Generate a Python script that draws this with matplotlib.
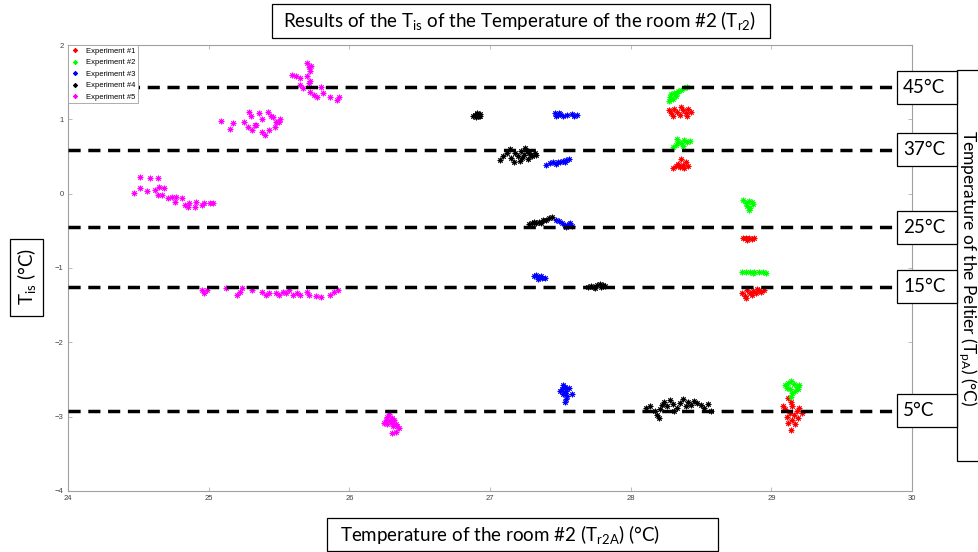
import matplotlib
matplotlib.use("Agg")
import matplotlib.pyplot as plt
import matplotlib.transforms as mtransforms
from matplotlib.patches import Rectangle

plt.rcParams['font.family'] = ['Lato', 'DejaVu Sans']
plt.rcParams['mathtext.fontset'] = 'custom'
plt.rcParams['mathtext.rm'] = 'Lato'
plt.rcParams['mathtext.it'] = 'Lato:italic'

# ---- data ----
exp1_x = [28.27, 28.29, 28.31, 28.33, 28.35, 28.37, 28.39, 28.41, 28.43, 28.30, 28.36, 28.40,
          28.30, 28.32, 28.34, 28.36, 28.37, 28.39, 28.41, 28.38, 28.35,
          28.80, 28.82, 28.84, 28.86, 28.88, 28.83,
          28.79, 28.81, 28.83, 28.85, 28.87, 28.89, 28.91, 28.93, 28.95, 28.82, 28.86, 28.90,
          29.12, 29.14, 29.15, 29.10, 29.18, 29.13, 29.16, 29.20, 29.08, 29.15, 29.12, 29.17,
          29.14, 29.19, 29.22, 29.11]
exp1_y = [1.12, 1.08, 1.14, 1.10, 1.06, 1.12, 1.09, 1.14, 1.10, 1.05, 1.16, 1.05,
          0.34, 0.37, 0.40, 0.46, 0.38, 0.42, 0.37, 0.34, 0.36,
          -0.60, -0.59, -0.60, -0.61, -0.60, -0.62,
          -1.33, -1.37, -1.30, -1.34, -1.31, -1.33, -1.29, -1.32, -1.30, -1.40, -1.36, -1.28,
          -2.75, -2.80, -2.86, -2.90, -2.92, -2.95, -2.98, -2.88, -2.85, -3.05, -3.08, -3.10,
          -3.18, -3.02, -2.95, -3.00]

exp2_x = [28.27, 28.28, 28.29, 28.30, 28.31, 28.32, 28.34, 28.36, 28.38, 28.40, 28.29, 28.33,
          28.30, 28.32, 28.34, 28.36, 28.38, 28.40, 28.42, 28.37, 28.33,
          28.80, 28.82, 28.84, 28.86, 28.83, 28.85, 28.84, 28.87,
          28.79, 28.82, 28.85, 28.88, 28.91, 28.94, 28.96, 28.87,
          29.10, 29.12, 29.14, 29.16, 29.18, 29.20, 29.13, 29.15, 29.14, 29.17, 29.11, 29.19]
exp2_y = [1.25, 1.30, 1.34, 1.28, 1.36, 1.32, 1.38, 1.40, 1.42, 1.43, 1.27, 1.35,
          0.63, 0.66, 0.70, 0.68, 0.72, 0.69, 0.71, 0.64, 0.73,
          -0.09, -0.12, -0.10, -0.11, -0.16, -0.19, -0.22, -0.14,
          -1.06, -1.05, -1.06, -1.05, -1.06, -1.05, -1.07, -1.07,
          -2.58, -2.55, -2.52, -2.56, -2.60, -2.58, -2.63, -2.68, -2.74, -2.65, -2.62, -2.63]

exp3_x = [27.46, 27.48, 27.47, 27.50, 27.52, 27.55, 27.58, 27.60, 27.62, 27.49,
          27.40, 27.43, 27.45, 27.48, 27.50, 27.52, 27.54, 27.56, 27.47, 27.53,
          27.47, 27.49, 27.51, 27.53, 27.56, 27.58, 27.54, 27.57,
          27.31, 27.33, 27.35, 27.37, 27.39, 27.34, 27.36,
          27.52, 27.53, 27.51, 27.54, 27.53, 27.52, 27.55, 27.58, 27.54, 27.53, 27.50, 27.56]
exp3_y = [1.08, 1.06, 1.04, 1.07, 1.05, 1.06, 1.07, 1.05, 1.06, 1.09,
          0.39, 0.41, 0.42, 0.43, 0.43, 0.44, 0.45, 0.46, 0.40, 0.42,
          -0.35, -0.37, -0.40, -0.42, -0.41, -0.43, -0.45, -0.39,
          -1.11, -1.10, -1.12, -1.13, -1.14, -1.15, -1.11,
          -2.57, -2.60, -2.63, -2.65, -2.68, -2.70, -2.72, -2.70, -2.76, -2.80, -2.66, -2.62]

exp4_x = [26.89, 26.91, 26.93, 26.90, 26.92, 26.91, 26.88, 26.93,
          27.07, 27.09, 27.12, 27.15, 27.17, 27.18, 27.20, 27.22, 27.24, 27.25, 27.27, 27.28,
          27.30, 27.32, 27.33, 27.21, 27.26, 27.14, 27.23, 27.29,
          27.28, 27.30, 27.33, 27.35, 27.38, 27.40, 27.42, 27.44, 27.36, 27.31,
          27.70, 27.72, 27.74, 27.76, 27.78, 27.80, 27.82, 27.75, 27.79,
          28.11, 28.14, 28.17, 28.19, 28.21, 28.22, 28.24, 28.26, 28.28, 28.30, 28.33, 28.35,
          28.37, 28.39, 28.41, 28.43, 28.45, 28.47, 28.50, 28.52, 28.55, 28.57, 28.20, 28.31]
exp4_y = [1.06, 1.08, 1.05, 1.03, 1.04, 1.07, 1.05, 1.07,
          0.45, 0.50, 0.55, 0.48, 0.42, 0.55, 0.50, 0.58, 0.52, 0.62, 0.47, 0.55,
          0.50, 0.55, 0.52, 0.44, 0.57, 0.60, 0.48, 0.52,
          -0.41, -0.40, -0.39, -0.38, -0.36, -0.35, -0.33, -0.31, -0.40, -0.38,
          -1.25, -1.24, -1.25, -1.23, -1.22, -1.23, -1.24, -1.27, -1.26,
          -2.88, -2.86, -2.93, -2.98, -2.90, -2.84, -2.80, -2.85, -2.78, -2.83, -2.88, -2.82,
          -2.76, -2.86, -2.80, -2.84, -2.79, -2.82, -2.84, -2.88, -2.83, -2.92, -3.02, -2.92]

exp5_x = [25.70, 25.71, 25.72, 25.73, 25.70, 25.72, 25.71, 25.59, 25.62, 25.65, 25.65, 25.67,
          25.72, 25.75, 25.77, 25.80, 25.81, 25.86, 25.91, 25.93,
          25.09, 25.15, 25.17, 25.29, 25.30, 25.25, 25.28, 25.31, 25.34, 25.38, 25.40, 25.38,
          25.42, 25.44, 25.46, 25.48, 25.51, 25.47, 25.50, 25.43, 25.36, 25.33,
          24.47, 24.51, 24.51, 24.56, 24.58, 24.62, 24.64, 24.65, 24.68, 24.64, 24.67, 24.71,
          24.74, 24.77, 24.76, 24.81, 24.83, 24.86, 24.90, 24.91, 24.95, 24.97, 25.01, 25.03, 24.85,
          24.95, 24.97, 24.99, 25.12, 25.20, 25.22, 25.24, 25.31, 25.38, 25.41, 25.43, 25.48, 25.50,
          25.53, 25.55, 25.57, 25.60, 25.63, 25.65, 25.70, 25.71, 25.76, 25.80, 25.86, 25.89, 25.92,
          26.28, 26.27, 26.30, 26.26, 26.29, 26.32, 26.30, 26.27, 26.33, 26.31, 26.35, 26.33,
          26.30, 26.25, 26.34]
exp5_y = [1.76, 1.70, 1.65, 1.72, 1.58, 1.52, 1.49, 1.60, 1.58, 1.56, 1.46, 1.42,
          1.37, 1.33, 1.30, 1.43, 1.35, 1.30, 1.26, 1.30,
          0.98, 0.87, 0.95, 1.10, 1.05, 0.96, 0.90, 0.85, 0.93, 0.83, 0.79, 1.00,
          1.10, 1.05, 1.03, 0.97, 1.00, 0.90, 0.96, 0.86, 1.08, 0.92,
          0.01, 0.22, 0.07, 0.04, 0.21, 0.05, 0.21, 0.09, 0.08, -0.02, -0.02, -0.06,
          -0.04, -0.04, -0.11, -0.06, -0.15, -0.13, -0.18, -0.11, -0.15, -0.13, -0.12, -0.12, -0.18,
          -1.30, -1.34, -1.29, -1.27, -1.36, -1.32, -1.27, -1.29, -1.32, -1.36, -1.34, -1.33, -1.36,
          -1.32, -1.34, -1.30, -1.36, -1.33, -1.36, -1.32, -1.36, -1.37, -1.39, -1.36, -1.32, -1.29,
          -2.97, -3.00, -3.02, -3.05, -3.06, -3.05, -3.09, -3.10, -3.10, -3.13, -3.15, -3.20,
          -3.22, -3.08, -3.12]

series_x = [exp1_x, exp2_x, exp3_x, exp4_x, exp5_x]
series_y = [exp1_y, exp2_y, exp3_y, exp4_y, exp5_y]
series_names = ['Experiment #1', 'Experiment #2', 'Experiment #3', 'Experiment #4', 'Experiment #5']
series_colors = ['#ff0000', '#00ff00', '#0000ff', '#000000', '#ff00ff']

peltier_levels = [1.43, 0.59, -0.45, -1.25, -2.92]
peltier_labels = ['45°C', '37°C', '25°C', '15°C', '5°C']

x_ticks = [24, 25, 26, 27, 28, 29, 30]
y_ticks = [-4, -3, -2, -1, 0, 1, 2]


def main():
    fig = plt.figure(figsize=(9.79, 5.52), dpi=100)
    W, H = 979.0, 552.0
    ax = fig.add_axes([68 / W, 1 - 491 / H, (912 - 68) / W, (491 - 45) / H])

    for xs, ys, name, c in zip(series_x, series_y, series_names, series_colors):
        ax.plot(xs, ys, ls='none', marker=(8, 2, 0), ms=4, mew=0.7, color=c, label=name)

    ax.set_xlim(24, 30)
    ax.set_ylim(-4, 2)
    ax.set_xticks(x_ticks)
    ax.set_yticks(y_ticks)
    ax.tick_params(direction='in', top=True, right=True, length=3, width=0.6,
                   color='#b0b0b0', labelsize=5.5, labelcolor='#404040', pad=3)
    for lab in ax.get_xticklabels() + ax.get_yticklabels():
        lab.set_family('Liberation Sans')
    for sp in ax.spines.values():
        sp.set_color('#a0a0a0')
        sp.set_linewidth(0.8)

    leg = ax.legend(loc='upper left', borderaxespad=0, fancybox=False, framealpha=1,
                    prop={'family': 'Liberation Sans', 'size': 5.5}, handlelength=1.2,
                    labelspacing=0.55, handletextpad=0.9, borderpad=0.3, markerscale=0.8)
    leg.get_frame().set_edgecolor('#a0a0a0')
    leg.get_frame().set_linewidth(0.6)

    # dashed Peltier reference lines and their labels
    blend = mtransforms.blended_transform_factory(fig.transFigure, ax.transData)
    x_end = 24 + (897 - 68) / (912 - 68) * 6
    box_h = 33 / (446 / 6)
    for lvl, lab in zip(peltier_levels, peltier_labels):
        ax.plot([24, x_end], [lvl, lvl], color='black', lw=2.5, ls=(0, (3.5, 2.2)),
                clip_on=False, zorder=3)
        fig.add_artist(Rectangle((897 / W, lvl - box_h / 2), 60 / W, box_h, transform=blend,
                                 facecolor='white', edgecolor='black', lw=0.9, clip_on=False, zorder=5))
        fig.text(903 / W, lvl, lab, transform=blend, ha='left', va='center', fontsize=13.5, zorder=6)

    box_kw = dict(facecolor='white', edgecolor='black', lw=0.9)

    # title box
    fig.add_artist(Rectangle((272 / W, 1 - 38 / H), (770 - 272) / W, 34 / H,
                             transform=fig.transFigure, **box_kw))
    fig.text(283 / W, 1 - 21 / H, r'Results of the T$_{\rm is}$ of the Temperature of the room #2 (T$_{\rm r2}$)',
             ha='left', va='center', fontsize=13.5)

    # x label box
    fig.add_artist(Rectangle((327 / W, 1 - 551 / H), (718 - 327) / W, 33 / H,
                             transform=fig.transFigure, **box_kw))
    fig.text(340 / W, 1 - 535 / H, r'Temperature of the room #2 (T$_{\rm r2A}$) (°C)',
             ha='left', va='center', fontsize=13.5)

    # y label box
    fig.add_artist(Rectangle((10 / W, 1 - 316 / H), 33 / W, 77 / H,
                             transform=fig.transFigure, **box_kw))
    fig.text(27 / W, 1 - 277 / H, r'T$_{\rm is}$ (°C)', rotation=90,
             ha='center', va='center', fontsize=13.5)

    # right label box
    fig.add_artist(Rectangle((957 / W, 1 - 461 / H), 40 / W, (461 - 70) / H,
                             transform=fig.transFigure, **box_kw))
    fig.text(967 / W, 1 - 268 / H, r'Temperature of the Peltier (T$_{\rm pA}$) (°C)', rotation=-90,
             ha='center', va='center', fontsize=12.5)

    fig.savefig('out.png', dpi=100)


if __name__ == "__main__":
    main()
